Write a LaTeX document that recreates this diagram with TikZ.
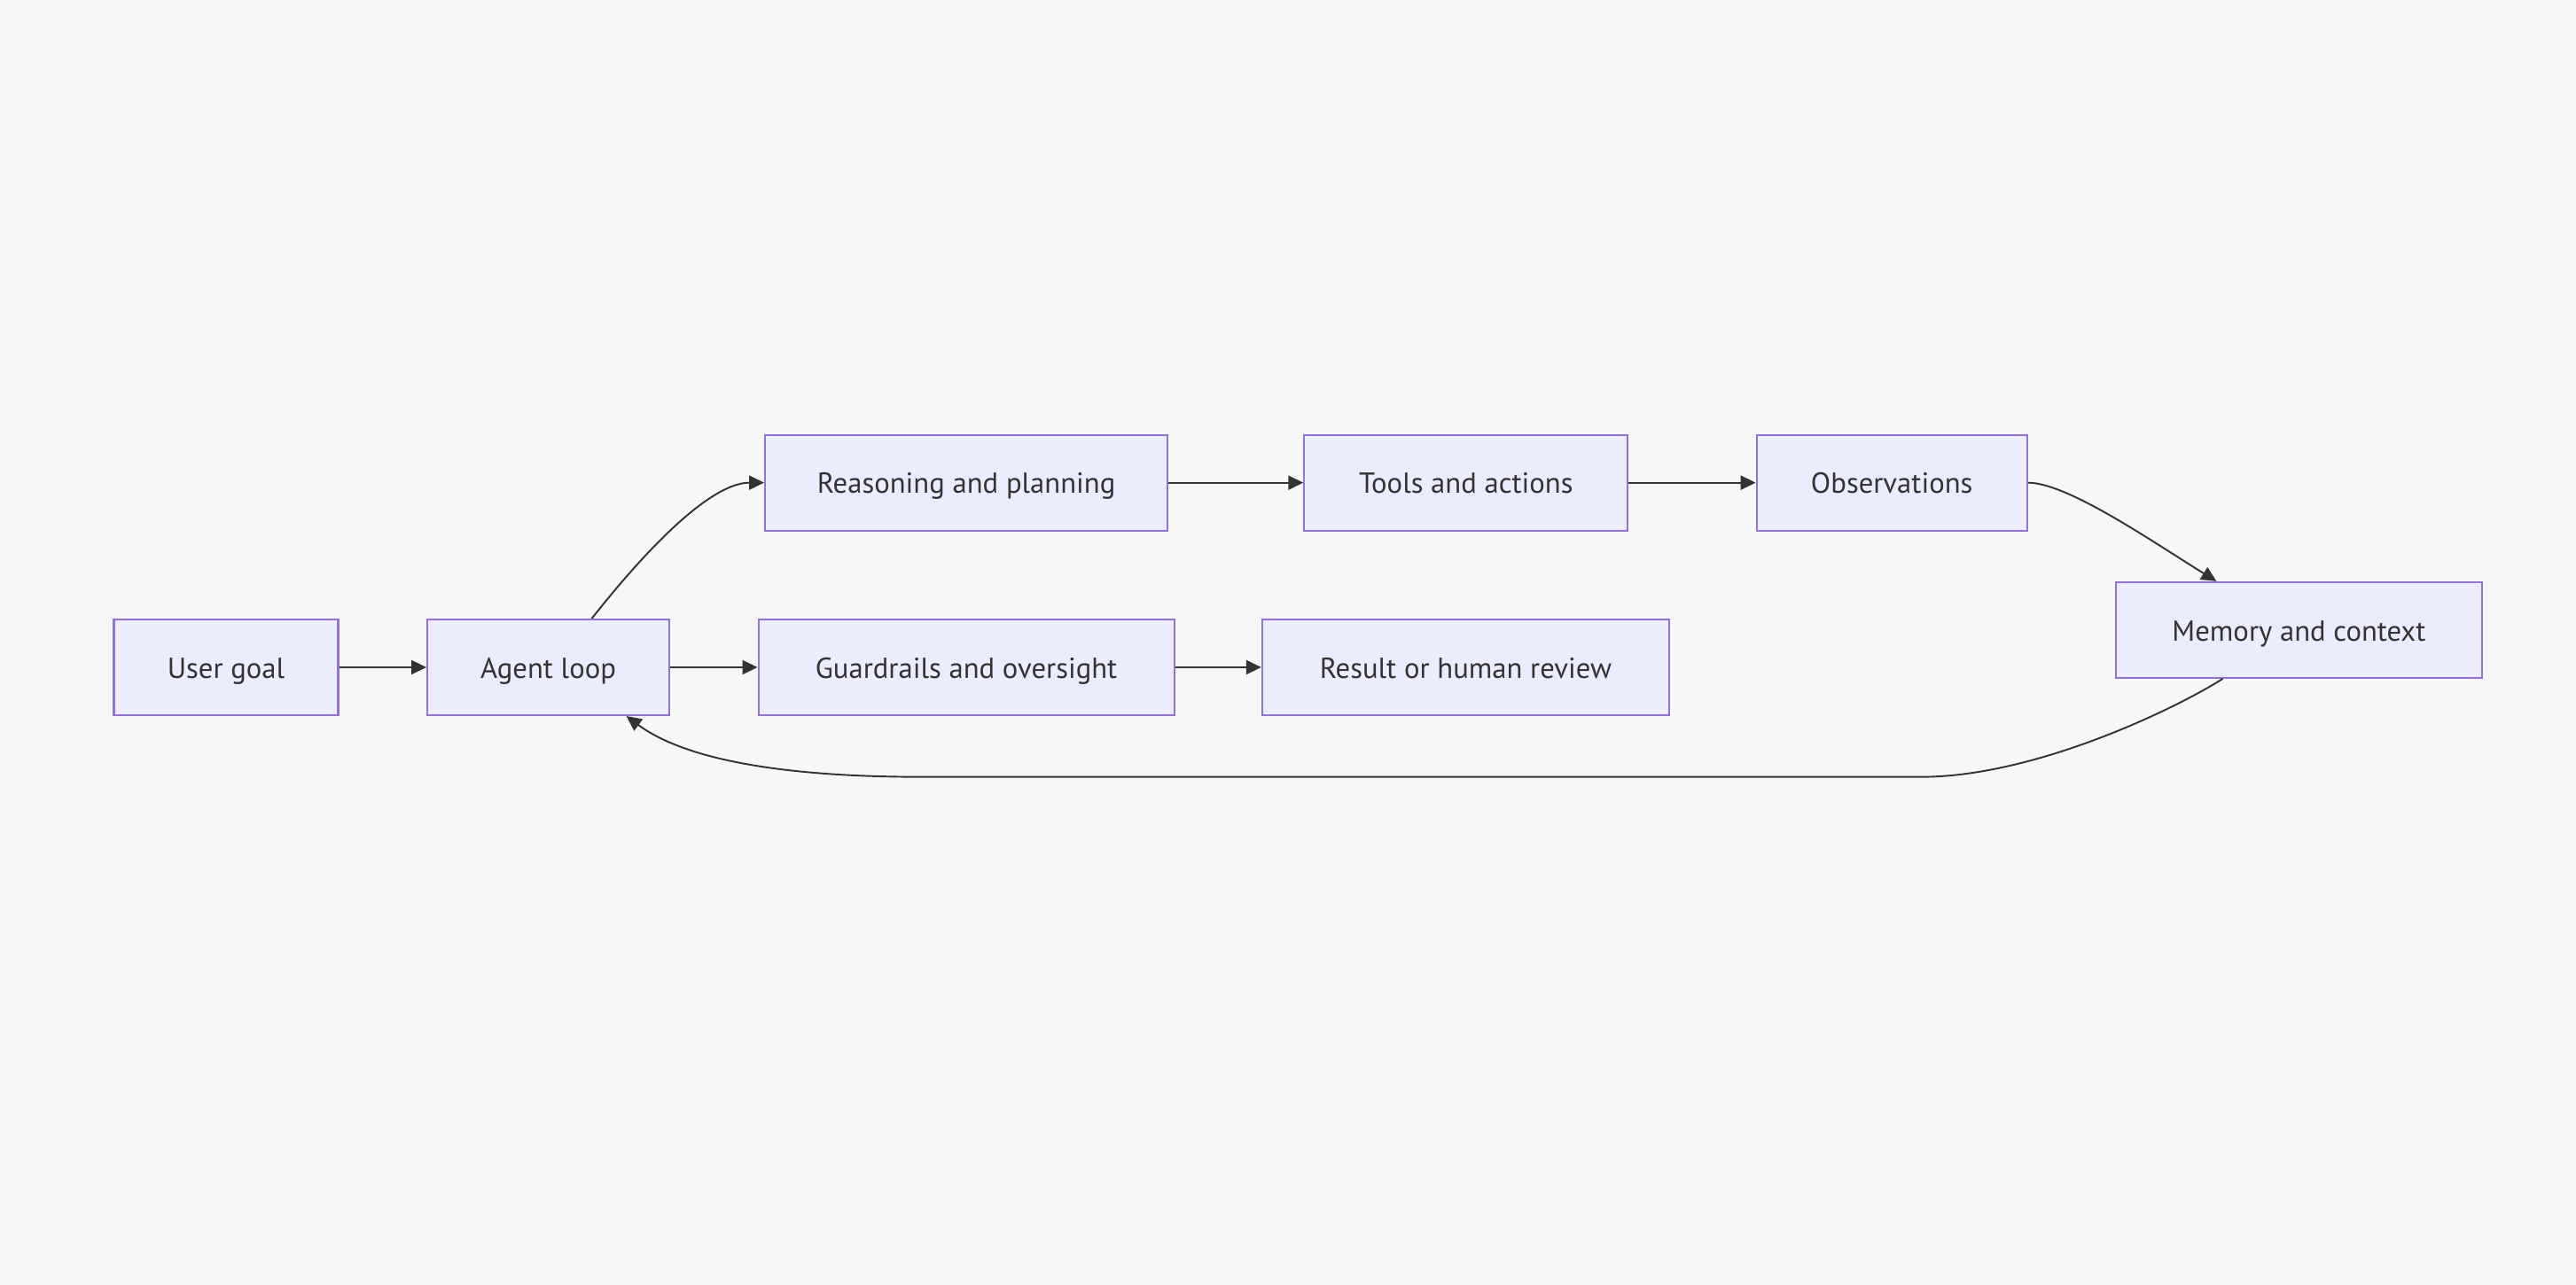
\documentclass[tikz,border=0pt]{standalone}
\usepackage{fontspec}
\setmainfont{PT Sans}
\usepackage{tikz}
\usepackage{xcolor}
\usetikzlibrary{arrows.meta}
\definecolor{pagebg}{HTML}{F7F7F7}
\definecolor{boxfill}{HTML}{ECECFF}
\definecolor{boxline}{HTML}{9370DB}
\definecolor{inkgray}{HTML}{333333}
\begin{document}
\begin{tikzpicture}[
    stage/.style={draw=boxline, fill=boxfill, line width=0.6pt, minimum height=1.08cm,
        inner sep=0pt, text height=1.4ex, text depth=0pt, text=inkgray, font=\fontsize{9.3}{11}\selectfont},
    flow/.style={draw=inkgray, line width=0.55pt, -{Triangle[length=0.17cm, width=0.16cm]}}
]
                % Canvas
                \useasboundingbox[fill=pagebg] (0,0) rectangle (29.06,14.5);
                % Lower row
                \node[stage, minimum width=2.53cm] (goal) at (2.55,6.97) {User goal};
                \node[stage, minimum width=2.73cm] (loop) at (6.186,6.97) {Agent loop};
                \node[stage, minimum width=4.69cm] (guard) at (10.901,6.97) {Guardrails and oversight};
                \node[stage, minimum width=4.59cm] (result) at (16.534,6.97) {Result or human review};
                % Upper row
                \node[stage, minimum width=4.54cm] (reason) at (10.901,9.053) {Reasoning and planning};
                \node[stage, minimum width=3.65cm] (tools) at (16.539,9.053) {Tools and actions};
                \node[stage, minimum width=3.05cm] (obs) at (21.342,9.053) {Observations};
                \node[stage, minimum width=4.13cm] (mem) at (25.934,7.391) {Memory and context};
                % Return path
                \coordinate (backR) at (21.67,5.733);
                \coordinate (backL) at (10.40,5.733);
                % Arrows
                \draw[flow] (goal) -- (loop);
                \draw[flow] (loop) -- (guard);
                \draw[flow] (guard) -- (result);
                \draw[flow] (reason) -- (tools);
                \draw[flow] (tools) -- (obs);
                \draw[flow] ([xshift=0.49cm]loop.north) .. controls +(0.75,0.95) and +(-0.55,0) .. (reason.west);
                \draw[flow] (obs.east) .. controls +(0.45,0) and +(-0.7,0.43) .. ([xshift=-0.93cm]mem.north);
                \draw[flow] ([xshift=-0.86cm]mem.south) .. controls +(-0.5,-0.32) and +(1.3,0) .. (backR)
                    -- (backL) .. controls +(-1.4,0) and +(0.716,-0.53) .. ([xshift=0.88cm]loop.south);
            \end{tikzpicture}
\end{document}
